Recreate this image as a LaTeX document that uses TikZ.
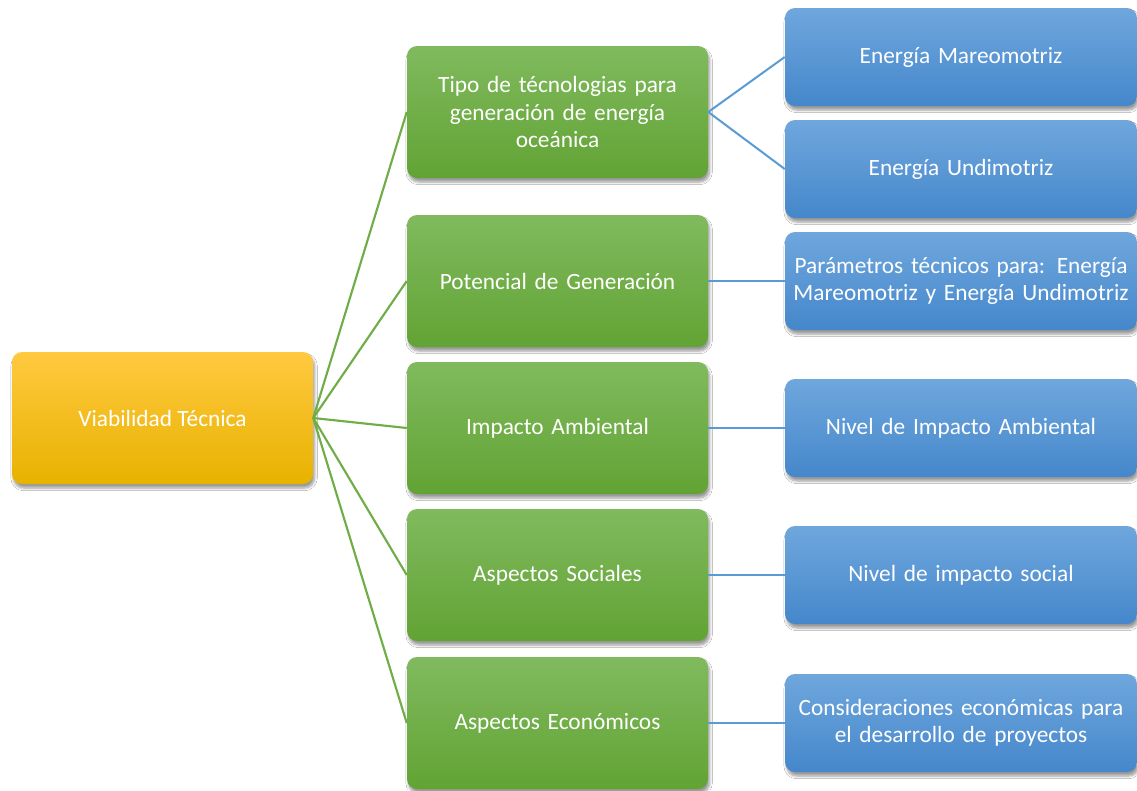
\documentclass[tikz,border=0pt]{standalone}
\usepackage{fontspec}
\setmainfont{Carlito}
\usetikzlibrary{shadows.blur}
\definecolor{yelTop}{HTML}{FFC940}
\definecolor{yelMid}{HTML}{FFC000}
\definecolor{yelBot}{HTML}{E8B200}
\definecolor{grnTop}{HTML}{80BA5E}
\definecolor{grnMid}{HTML}{6EAC44}
\definecolor{grnBot}{HTML}{62A334}
\definecolor{bluTop}{HTML}{6FA7DD}
\definecolor{bluMid}{HTML}{5596D6}
\definecolor{bluBot}{HTML}{4587CB}
\definecolor{grnLine}{HTML}{70AD47}
\definecolor{bluLine}{HTML}{5B9BD5}
\tikzset{
  box/.style={rounded corners=7.5pt, inner sep=2pt, align=center, text=white,
    font=\fontsize{17.5}{20.5}\selectfont,
    blur shadow={shadow xshift=1.2pt, shadow yshift=-3pt,
      shadow blur radius=2pt, shadow blur steps=6, shadow opacity=40}},
  rootbox/.style={box, minimum width=225.75pt, minimum height=99pt,
    top color=yelTop, middle color=yelMid, bottom color=yelBot},
  midbox/.style={box, minimum width=225.75pt, minimum height=99pt, text width=220pt,
    top color=grnTop, middle color=grnMid, bottom color=grnBot},
  leafbox/.style={box, minimum width=262.5pt, minimum height=73.5pt, text width=260pt,
    top color=bluTop, middle color=bluMid, bottom color=bluBot},
  gline/.style={draw=grnLine, line width=1.6pt},
  bline/.style={draw=bluLine, line width=1.5pt}
}
\begin{document}
\begin{tikzpicture}[x=0.75pt, y=-0.75pt]
  \useasboundingbox[fill=white] (0,0) rectangle (1137,790);

  % root
  \node[rootbox] (root) at (162.5,418) {Viabilidad Técnica};

  % second level
  \node[midbox] (tec) at (557.5,112) {Tipo de técnologias para\\generación de energía\\oceánica};
  \node[midbox] (pot) at (557.5,281) {Potencial de Generación};
  \node[midbox] (amb) at (557.5,428) {Impacto Ambiental};
  \node[midbox] (soc) at (557.5,575) {Aspectos Sociales};
  \node[midbox] (eco) at (557.5,723) {Aspectos Económicos};

  % third level
  \node[leafbox] (mar) at (961,57)  {Energía Mareomotriz};
  \node[leafbox] (und) at (961,169) {Energía Undimotriz};
  \node[leafbox] (par) at (961,281) {Parámetros técnicos para: Energía\\Mareomotriz y Energía Undimotriz};
  \node[leafbox] (nia) at (961,428) {Nivel de Impacto Ambiental};
  \node[leafbox] (nis) at (961,575) {Nivel de impacto social};
  \node[leafbox] (con) at (961,723) {Consideraciones económicas para\\el desarrollo de proyectos};

  % connectors from the root
  \foreach \t in {tec,pot,amb,soc,eco}
    \draw[gline] (root.east) -- (\t.west);

  % connectors to the leaves
  \draw[bline] (tec.east) -- (mar.west);
  \draw[bline] (tec.east) -- (und.west);
  \draw[bline] (pot.east) -- (par.west);
  \draw[bline] (amb.east) -- (nia.west);
  \draw[bline] (soc.east) -- (nis.west);
  \draw[bline] (eco.east) -- (con.west);
\end{tikzpicture}
\end{document}
